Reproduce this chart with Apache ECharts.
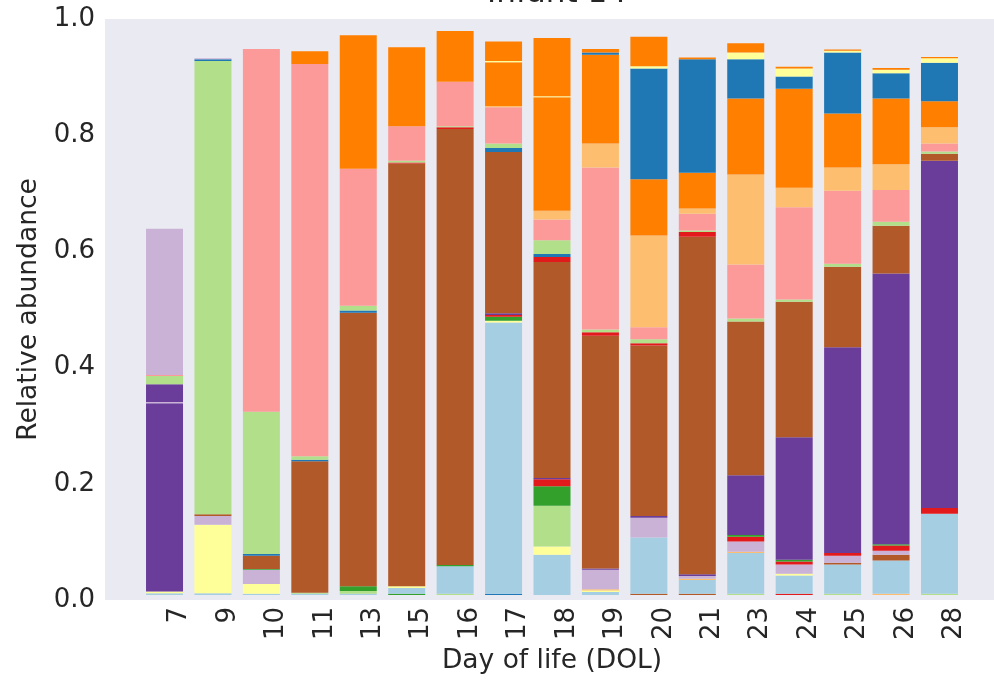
<!DOCTYPE html>
<html>
<head>
<meta charset="utf-8">
<script src="https://cdn.jsdelivr.net/npm/echarts@6/dist/echarts.min.js"></script>
<style>
  html, body { margin: 0; padding: 0; background: #fff; }
  #box { width: 994px; height: 680px; }
</style>
</head>
<body>
<div id="box"></div>
<script>
// day of life (x categories)
const days = ["7", "9", "10", "11", "13", "15", "16", "17", "18", "19", "20", "21", "23", "24", "25", "26", "28"];
const yTicks = [0, 0.2, 0.4, 0.6, 0.8, 1.0];

// relative abundance per taxon, stacked bottom -> top
const brownLow  = [0, 0, 0, 0, 0, 0, 0, 0, 0, 0, 0.002, 0.002, 0, 0, 0, 0, 0];
const blueLow   = [0, 0, 0, 0, 0, 0, 0, 0.002, 0, 0, 0, 0, 0, 0, 0, 0, 0];
const greenLow  = [0, 0, 0, 0, 0, 0.002, 0, 0, 0, 0, 0, 0, 0, 0, 0, 0, 0];
const lgreenLow = [0, 0, 0, 0, 0, 0, 0.002, 0, 0, 0, 0, 0, 0.002, 0, 0.002, 0, 0.002];
const redLow    = [0, 0, 0, 0, 0, 0, 0, 0, 0, 0, 0, 0, 0, 0.002, 0, 0, 0];
const lorangeLow = [0, 0, 0, 0, 0, 0, 0, 0, 0, 0, 0, 0, 0, 0, 0, 0.002, 0];
const lightBlue = [0.003, 0.003, 0.002, 0.002, 0.002, 0.010, 0.048, 0.471, 0.070, 0.005, 0.098, 0.024, 0.071, 0.032, 0.051, 0.058, 0.139];
const yellow1   = [0.003, 0.119, 0.017, 0, 0, 0.003, 0, 0.003, 0.014, 0.003, 0, 0, 0, 0.003, 0, 0, 0];
const lorange1  = [0, 0, 0, 0, 0, 0, 0, 0, 0, 0.002, 0, 0.002, 0.002, 0, 0, 0, 0];
const brown1    = [0, 0, 0, 0, 0, 0, 0, 0, 0, 0, 0, 0, 0, 0, 0.003, 0.010, 0];
const lpurple1  = [0, 0.015, 0.025, 0, 0, 0, 0, 0, 0, 0.034, 0.034, 0.005, 0.018, 0.016, 0.012, 0.007, 0];
const lgreen1   = [0, 0, 0, 0.002, 0.005, 0, 0, 0, 0.071, 0, 0, 0, 0, 0, 0, 0, 0];
const green1    = [0, 0, 0.001, 0, 0.008, 0, 0.002, 0.007, 0.034, 0, 0, 0, 0, 0, 0, 0, 0];
const red1      = [0, 0, 0, 0, 0, 0, 0, 0.003, 0.012, 0, 0, 0, 0.008, 0.005, 0.005, 0.009, 0.010];
const green2    = [0, 0, 0, 0, 0, 0, 0, 0, 0, 0, 0, 0, 0.003, 0.003, 0, 0.002, 0];
const purple1   = [0.327, 0, 0, 0, 0, 0, 0, 0.003, 0.002, 0.002, 0.003, 0.003, 0.104, 0.213, 0.357, 0.470, 0.603];
const lpurple2  = [0.002, 0, 0, 0, 0, 0, 0, 0, 0, 0, 0, 0, 0, 0, 0, 0, 0];
const purple2   = [0.031, 0, 0, 0, 0, 0, 0, 0, 0, 0, 0, 0, 0, 0, 0, 0, 0];
const brown2    = [0, 0.003, 0.023, 0.228, 0.475, 0.734, 0.757, 0.280, 0.375, 0.404, 0.296, 0.586, 0.267, 0.235, 0.140, 0.083, 0.012];
const red2      = [0, 0, 0, 0, 0, 0.002, 0.003, 0, 0.009, 0.006, 0.004, 0.008, 0, 0, 0, 0, 0];
const blue2     = [0, 0, 0.003, 0.003, 0.004, 0, 0, 0.007, 0.005, 0, 0, 0, 0, 0, 0, 0, 0];
const lgreen2   = [0.014, 0.787, 0.247, 0.006, 0.008, 0.003, 0.002, 0.008, 0.024, 0.005, 0.007, 0.003, 0.005, 0.004, 0.005, 0.007, 0.004];
const pink      = [0.002, 0, 0.630, 0.681, 0.238, 0.060, 0.077, 0.063, 0.036, 0.281, 0.021, 0.029, 0.094, 0.160, 0.127, 0.055, 0.014];
const lorange2  = [0, 0, 0, 0, 0, 0, 0, 0.002, 0.015, 0.042, 0.159, 0.009, 0.156, 0.034, 0.040, 0.045, 0.028];
const orange1   = [0, 0, 0, 0.022, 0.232, 0.137, 0.088, 0.076, 0.197, 0.154, 0.098, 0.062, 0.132, 0.172, 0.094, 0.114, 0.045];
const blue3     = [0, 0.003, 0, 0, 0, 0, 0, 0, 0, 0.004, 0.192, 0.197, 0.068, 0.021, 0.106, 0.044, 0.067];
const yellow2   = [0, 0, 0, 0, 0, 0, 0, 0.002, 0.002, 0, 0.004, 0, 0.012, 0.014, 0.003, 0.006, 0.008];
const orange2   = [0, 0, 0, 0, 0, 0, 0, 0.034, 0.101, 0.006, 0.051, 0.003, 0.016, 0.003, 0.002, 0.003, 0.002];
const lpurpleTop = [0.254, 0.002, 0, 0, 0, 0, 0, 0, 0, 0, 0, 0, 0, 0, 0, 0, 0];

// colour for each layer (matplotlib "Paired")
const layers = [
  [brownLow, "#b15928"], [blueLow, "#1f78b4"], [greenLow, "#33a02c"], [lgreenLow, "#b2df8a"],
  [redLow, "#e31a1c"], [lorangeLow, "#fdbf6f"], [lightBlue, "#a6cee3"], [yellow1, "#ffff99"],
  [lorange1, "#fdbf6f"], [brown1, "#b15928"], [lpurple1, "#cab2d6"], [lgreen1, "#b2df8a"],
  [green1, "#33a02c"], [red1, "#e31a1c"], [green2, "#33a02c"], [purple1, "#6a3d9a"],
  [lpurple2, "#cab2d6"], [purple2, "#6a3d9a"], [brown2, "#b15928"], [red2, "#e31a1c"],
  [blue2, "#1f78b4"], [lgreen2, "#b2df8a"], [pink, "#fb9a99"], [lorange2, "#fdbf6f"],
  [orange1, "#ff7f00"], [blue3, "#1f78b4"], [yellow2, "#ffff99"], [orange2, "#ff7f00"],
  [lpurpleTop, "#cab2d6"]
];

const font = "DejaVu Sans";
const txt = "#262626";

let myChart = echarts.init(document.getElementById("box"));
let option = {
  animation: false,
  title: {
    text: "Infant 14",
    left: 552,
    top: -27,
    textAlign: "center",
    textStyle: { fontFamily: font, fontSize: 31, fontWeight: "normal", color: txt }
  },
  grid: [
    // plot background + y axis
    { left: 105, right: -5, top: 19, bottom: 80, show: true, backgroundColor: "#eaeaf2", borderWidth: 0 },
    // bars
    { left: 140.3, right: 30.3, top: 19, bottom: 80 }
  ],
  xAxis: [
    { gridIndex: 0, type: "value", show: false, min: 0, max: 1 },
    {
      gridIndex: 1,
      type: "category",
      data: days,
      axisLine: { show: false },
      axisTick: { show: false },
      axisLabel: {
        interval: 0,
        rotate: 90,
        margin: 12,
        verticalAlign: "top",
        lineHeight: 30,
        fontFamily: font,
        fontSize: 26,
        color: txt
      },
      name: "Day of life (DOL)",
      nameLocation: "middle",
      nameGap: 53,
      nameTextStyle: { fontFamily: font, fontSize: 26.5, color: txt }
    }
  ],
  yAxis: [
    {
      gridIndex: 0,
      type: "value",
      min: 0,
      max: 1,
      interval: 0.2,
      axisLine: { show: false },
      axisTick: { show: false },
      splitLine: { show: false },
      axisLabel: {
        margin: 10,
        fontFamily: font,
        fontSize: 26,
        color: txt,
        formatter: (v) => (yTicks.includes(+v.toFixed(1)) ? v.toFixed(1) : "")
      },
      name: "Relative abundance",
      nameLocation: "middle",
      nameGap: 62,
      nameTextStyle: { fontFamily: font, fontSize: 26.5, color: txt }
    },
    { gridIndex: 1, type: "value", min: 0, max: 1, show: false }
  ],
  series: layers.map((l, i) => ({
    name: "taxon " + (i + 1),
    type: "bar",
    stack: "abundance",
    xAxisIndex: 1,
    yAxisIndex: 1,
    barWidth: 37,
    data: l[0],
    itemStyle: { color: l[1] }
  }))
};
myChart.setOption(option);
</script>
</body>
</html>
